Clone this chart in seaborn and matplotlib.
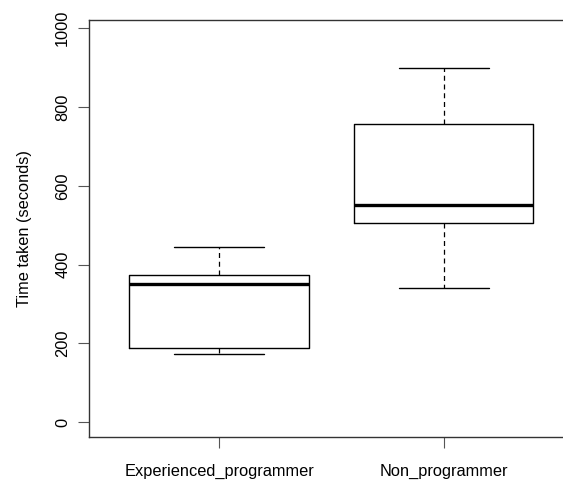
import matplotlib
matplotlib.use("Agg")
import matplotlib.pyplot as plt
import pandas as pd
import seaborn as sns

# five-number summaries (min, q1, median, q3, max)
groups = ["Experienced_programmer", "Non_programmer"]
experienced = [174, 189, 350, 373, 444]
non_programmer = [342, 505, 551, 757, 898]

df = pd.DataFrame({
    "group": [groups[0]] * len(experienced) + [groups[1]] * len(non_programmer),
    "time": experienced + non_programmer,
})

sns.set_style("white")
plt.rcParams["font.family"] = ["Liberation Sans", "DejaVu Sans"]
plt.rcParams["text.color"] = "black"
plt.rcParams["axes.labelcolor"] = "black"

fig = plt.figure(figsize=(5.63, 4.8), dpi=100)
W, H = 563, 480
ax = fig.add_axes([89 / W, (H - 437.3) / H, (573.8 - 89) / W, (437.3 - 20.3) / H])

sns.boxplot(
    data=df, x="group", y="time", ax=ax,
    fill=False, color="black", width=0.8, whis=1.5, linewidth=1,
    whiskerprops={"linestyle": (0, (4, 3)), "color": "black", "linewidth": 0.9},
    capprops={"color": "black", "linewidth": 1},
    medianprops={"color": "black", "linewidth": 2.4},
    boxprops={"color": "black", "linewidth": 1},
)

ax.set_xlim(-0.58, 1.58)
ax.set_ylim(-38, 1020)
ax.set_yticks([0, 200, 400, 600, 800, 1000])
ax.set_yticklabels(["0", "200", "400", "600", "800", "1000"], rotation=90, va="center")
ax.set_xlabel("")
ax.set_ylabel("Time taken (seconds)", fontsize=11.8, labelpad=17, color="black")
ax.tick_params(axis="both", labelsize=11.8, length=8, width=0.8, color="#555555",
               labelcolor="black", direction="out", left=True, bottom=True)
ax.tick_params(axis="y", pad=5.5)
ax.tick_params(axis="x", pad=11)
for s in ax.spines.values():
    s.set_color("#333333")
    s.set_linewidth(1)

fig.savefig("out.png", dpi=100)
